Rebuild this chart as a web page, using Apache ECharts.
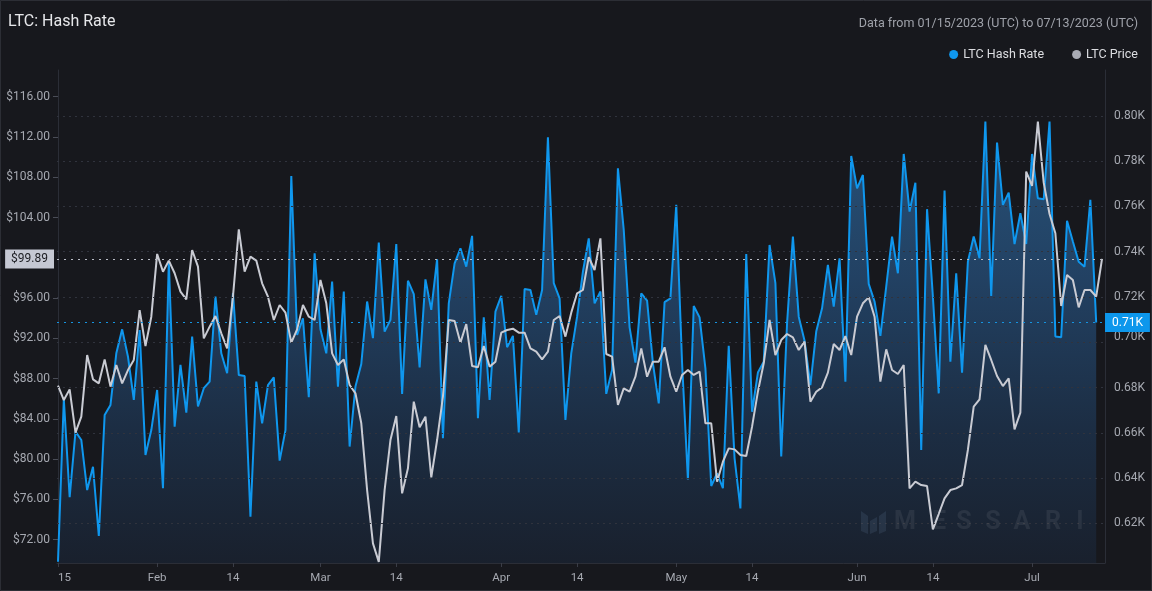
<!DOCTYPE html>
<html><head><meta charset="utf-8">
<script src="https://cdn.jsdelivr.net/npm/echarts@6/dist/echarts.min.js"></script>
<style>html,body{margin:0;padding:0;background:#17181d;overflow:hidden}#c{width:1152px;height:591px}</style>
</head><body><div id="c"></div>
<script>
// LTC hash rate (raw units, 1K = 1000), daily from 2023-01-15
const hashRate = [603,674.8,631.5,660.5,656.8,634.7,645,614.4,667.9,672.3,695.1,705.7,693.6,674.5,705.4,650.2,661.2,678.9,
635.5,735.6,662.7,690,668.9,702.5,671.6,679.7,682.6,720.2,695.1,686.3,721.7,685.5,685.1,622.9,682.6,664.2,
681.1,684.5,647.7,661.2,773.5,703.2,710.6,675.7,739.3,705.7,695.1,726.8,680.4,722.4,653.9,680.4,690.4,718,
701.8,744,704.7,709.9,743.4,677.2,727.2,721.3,688.9,727.8,714.3,736.7,657.6,717.2,734.9,741.5,733.4,747,
666.4,711,674.5,713.5,720.5,697.8,702.8,660.1,723.5,723.1,712.1,723.1,790.6,726.1,719.4,665.7,695.1,711.3,
731.2,745.9,717.2,722.4,677.2,687.8,776.9,749.6,706.6,691,721.6,718.4,690.7,673,717.7,719.4,760.7,690.7,
639.4,716,711,688.5,636.5,642.1,635.5,698.4,648.7,626.6,739,669.3,686.6,691.4,743,726.1,649.5,708.4,
746.7,711.3,700.7,681.1,704.7,715,734.2,715.7,737.1,682.6,782.3,768,773.9,725.8,718,702.8,724.6,746.7,
730.5,783.2,757.7,770.5,652.4,758.8,720.2,677.4,767,691.4,730.5,686.6,735.6,746.7,737.1,797.5,720.5,788.2,
760.7,766.1,743.4,757,743.4,783.2,763.6,763.2,797.5,702.5,702.2,753.7,744.5,735.6,733.4,762.9,708.7];
// LTC price (USD), daily from 2023-01-15
const ltcPrice = [87.3,85.87,86.93,82.63,84.22,90.34,87.93,87.53,89.91,87.2,89.35,87.53,88.85,89.85,94.81,91.24,94.15,100.38,
98.62,99.72,98.46,96.64,95.87,100.77,99.12,92.0,93.16,94.22,92.5,91.0,96.14,102.83,98.62,100.11,99.72,97.46,
96.14,93.82,95.31,94.55,91.57,92.89,95.31,94.15,93.82,97.8,95.48,90.51,89.35,89.91,87.36,86.54,83.56,76.93,
71.64,69.8,76.93,81.9,84.28,76.6,79.09,85.71,83.16,84.22,78.19,81.9,86.2,93.82,93.72,91.57,93.42,89.25,
89.12,91.24,89.19,89.68,92.56,92.83,92.96,92.56,92.56,91.0,90.68,89.91,90.68,93.82,94.22,92.17,94.55,96.47,
96.8,100.05,98.79,101.93,90.44,90.18,85.38,87.03,86.7,88.19,91.0,88.19,89.68,89.68,91.11,88.19,86.7,88.36,
88.85,88.36,88.69,83.56,83.56,77.76,79.75,81.07,80.97,80.41,80.31,83.23,86.7,89.52,93.82,90.34,91.83,92.43,
92.1,90.84,91.67,85.71,86.7,87.13,88.59,91.44,90.84,92.23,90.34,94.15,95.48,96.07,94.15,87.7,90.91,88.85,
88.46,89.35,77.1,77.76,77.43,77.33,73.03,74.55,76.11,76.93,77.1,77.43,80.91,85.21,85.94,91.34,89.85,88.26,
87.26,88.03,82.96,84.62,108.56,107.13,113.52,107.46,104.35,102.43,95.21,98.29,97.8,95.08,96.8,96.8,96.14,99.89];
const xTickDays = [0,17,30,45,58,76,89,106,119,137,150,167];
const xTickLabels = ['15','Feb','14','Mar','14','Apr','14','May','14','Jun','14','Jul'];
const priceTicks = [72,76,80,84,88,92,96,104,108,112,116];
const hashTicks = [620,640,660,680,700,720,740,760,780,800];

const fmtHash = v => (v/1000).toFixed(2) + 'K';
const fmtPrice = v => '$' + v.toFixed(2);
const lastPrice = ltcPrice[ltcPrice.length-1];
const lastHash = hashRate[hashRate.length-1];
const axisCol = '#2b2e37';
const labCol = '#a6a9b1';

const chart = echarts.init(document.getElementById('c'), null, {renderer:'canvas'});
const letters = ['M','E','S','S','A','R','I'];
const letterX = [905,939,964,993,1022,1053,1080];
const graphics = [
  {type:'rect', shape:{x:0.5,y:0.5,width:1151,height:590}, style:{fill:'none', stroke:'#2c2e35', lineWidth:1}, silent:true, z:100}
];
letters.forEach((l,i)=>graphics.push({type:'text', x:letterX[i], y:523, z:50, silent:true,
  style:{text:l, font:'bold 25px Roboto', fill:'rgba(255,255,255,0.07)', textAlign:'center', textVerticalAlign:'middle'}}));
[[[861,511],[868,516],[868,534],[861,531]],[[870,521],[877,517],[877,531],[870,534]],[[879,516],[886,511],[886,531],[879,534]]]
  .forEach(p=>graphics.push({type:'polygon', shape:{points:p}, style:{fill:'rgba(140,170,210,0.12)'}, silent:true, z:50}));

chart.setOption({
  animation:false,
  backgroundColor:'#17181d',
  textStyle:{fontFamily:'Roboto, "Noto Sans", sans-serif'},
  title:[
    {text:'LTC: Hash Rate', left:3, top:9, textStyle:{color:'#e6e7ea', fontSize:16, fontWeight:'normal'}},
    {text:'Data from 01/15/2023 (UTC) to 07/13/2023 (UTC)', right:9, top:12, textStyle:{color:'#9fa2aa', fontSize:12.5, fontWeight:'normal'}}
  ],
  legend:{right:9, top:43, icon:'circle', itemWidth:9, itemHeight:9, itemGap:28,
    textStyle:{color:'#dcdde1', fontSize:12.5},
    data:[{name:'LTC Hash Rate', itemStyle:{color:'#0f97ee'}}, {name:'LTC Price', itemStyle:{color:'#a9abb4'}}]},
  grid:{left:57, right:47, top:70, bottom:28},
  xAxis:{type:'value', min:-0.17, max:179.51,
    axisLine:{show:true, lineStyle:{color:axisCol}},
    axisTick:{show:true, customValues:xTickDays, length:4, lineStyle:{color:'#3a3d47'}},
    splitLine:{show:false},
    axisLabel:{customValues:xTickDays, color:labCol, fontSize:11.5, margin:9, alignMinLabel:'left',
      formatter:v=>{const i=xTickDays.indexOf(Math.round(v)); return i>=0?xTickLabels[i]:'';}}
  },
  yAxis:[
    {type:'value', position:'left', min:69.686, max:118.65,
      axisLine:{show:true, lineStyle:{color:axisCol}},
      axisTick:{show:true, customValues:priceTicks, length:5, lineStyle:{color:'#4a4d57'}},
      splitLine:{show:false},
      axisLabel:{customValues:priceTicks, color:labCol, fontSize:12, margin:7, formatter:v=>fmtPrice(v)}},
    {type:'value', position:'right', min:602.46, max:820.3,
      axisLine:{show:true, lineStyle:{color:axisCol}},
      axisTick:{show:false},
      splitLine:{show:false},
      axisLabel:{customValues:hashTicks, color:labCol, fontSize:12, margin:9,
        formatter:v=> v===700 ? '{s|'+fmtHash(v)+'}' : fmtHash(v),
        rich:{s:{color:labCol, fontSize:12, padding:[0,0,11,0]}}}}
  ],
  series:[
    {name:'LTC Hash Rate', type:'line', yAxisIndex:1, z:2, showSymbol:false, symbol:'none',
      data:hashRate.map((v,i)=>[i,v]),
      lineStyle:{color:'#0f97ee', width:2}, itemStyle:{color:'#0f97ee'},
      areaStyle:{origin:'start', color:new echarts.graphic.LinearGradient(0,0,0,1,[
        {offset:0,color:'#2e6a9f'},{offset:0.35,color:'#275381'},{offset:0.7,color:'#1e3653'},{offset:1,color:'#1a2434'}])},
      markLine:{silent:true, symbol:'none', animation:false,
        data:[
          ...hashTicks.map(v=>({yAxis:v, label:{show:false}, lineStyle:{type:[2,4], color:'#30333d', width:1}})),
          {yAxis:lastHash, lineStyle:{type:[2,5], color:'#1593e0', width:1.2},
            label:{show:true, position:'end', distance:0, formatter:p=>fmtHash(p.value), color:'#ffffff', fontSize:12,
              backgroundColor:'#0d97ec', padding:[4,7,3,7]}}
        ]}
    },
    {name:'LTC Price', type:'line', yAxisIndex:0, z:3, showSymbol:false, symbol:'none',
      data:ltcPrice.map((v,i)=>[i,v]),
      lineStyle:{color:'#c9cbd3', width:2}, itemStyle:{color:'#a9abb4'},
      markLine:{silent:true, symbol:'none', animation:false,
        data:[{yAxis:lastPrice, lineStyle:{type:[2,5], color:'#b9bcc6', width:1.2},
          label:{show:true, position:'start', distance:3, formatter:p=>fmtPrice(p.value), color:'#1c1d22', fontSize:12,
            backgroundColor:'#c5c8d3', padding:[4,6,3,6]}}]}
    }
  ],
  graphic:graphics
});
</script></body></html>
